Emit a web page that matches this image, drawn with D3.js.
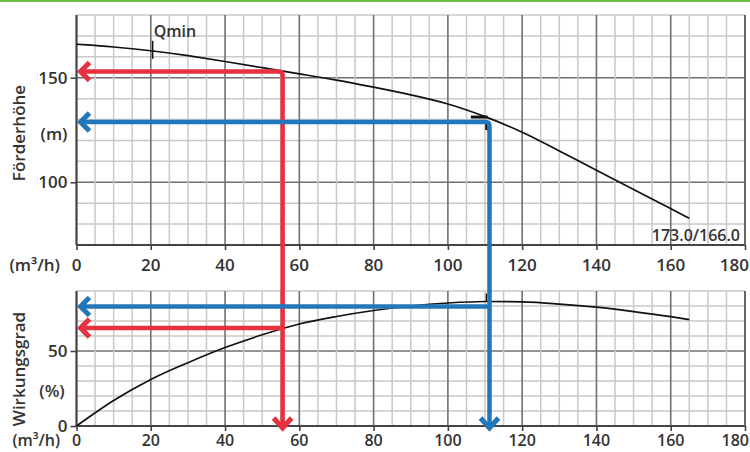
<!DOCTYPE html>
<html><head><meta charset="utf-8">
<script src="https://cdn.jsdelivr.net/npm/d3@7"></script>
<style>html,body{margin:0;padding:0;background:#fff;} svg{display:block;}</style>
</head><body>
<svg id="c" width="750" height="452"></svg>
<script>
// ---- data ----
const flowTicks = [0,20,40,60,80,100,120,140,160,180];
const headTicks = [150,100];
const effTicks = [50,0];
const headQ = [0,10,20,30,40,50,60,70,80,90,100,110,120,130,140,150,160,165];
const headH = [166,164.8,163,160.6,157.8,154.8,151.8,149,145.5,141.9,137.8,131.6,124.2,115,105.8,96.6,87.4,82.8];
const effQ  = [0,10,20,30,40,50,60,70,80,90,100,110,120,130,140,150,160,165];
const effE  = [0,17,31,42.2,52.3,60.8,68,73,77,80,82,83,82.7,81.3,79.2,76.3,72.9,70.9];
const dutyNames = ["rot","blau"];
const dutyQ   = [55.5, 111.2];
const dutyH   = [153, 128.8];
const dutyEta = [65.3, 79.6];
const qminQ = [20.5];
const curveLabel = ["173.0/166.0"];

// ---- layout ----
const svg = d3.select("#c");
const font = "'Open Sans', 'DejaVu Sans', sans-serif";
const colors = {rot:"#e5323e", blau:"#2277bb"};
const x = d3.scaleLinear([0,180],[76.5,745]);
const yT = d3.scaleLinear([70,180],[245,15]);
const yB = d3.scaleLinear([0,90],[426,291]);

svg.append("rect").attr("x",0).attr("y",0).attr("width",750).attr("height",2).attr("fill","#6bbf46");

function grid(y, yMin, yMax, yStep, yMajor){
  const g = svg.append("g");
  const minor = "#c9c9c9", major = "#707070";
  for(let v=yMin; v<=yMax+1e-6; v+=yStep){
    const isMaj = yMajor.includes(v);
    g.append("line").attr("x1",x(0)).attr("x2",x(180)).attr("y1",y(v)).attr("y2",y(v))
      .attr("stroke", isMaj?major:minor).attr("stroke-width",1.5);
  }
  for(let q=0;q<=180;q+=5){
    const isMaj = q%20===0;
    g.append("line").attr("x1",x(q)).attr("x2",x(q)).attr("y1",y(yMin)).attr("y2",y(yMax))
      .attr("stroke", isMaj?major:minor).attr("stroke-width",isMaj?1.6:1.5);
  }
  g.append("line").attr("x1",x(0)).attr("x2",x(180)).attr("y1",y(yMin)).attr("y2",y(yMin)).attr("stroke","#444").attr("stroke-width",2);
  g.append("line").attr("x1",x(0)).attr("x2",x(0)).attr("y1",y(yMin)).attr("y2",y(yMax)).attr("stroke","#444").attr("stroke-width",2);
  g.append("line").attr("x1",x(180)).attr("x2",x(180)).attr("y1",y(yMin)).attr("y2",y(yMax)).attr("stroke","#666").attr("stroke-width",2);
  const ax = d3.axisBottom(x).tickValues(flowTicks).tickSize(5).tickFormat("");
  const axG = g.append("g").attr("transform",`translate(0,${y(yMin)})`).call(ax);
  axG.select(".domain").remove();
  axG.selectAll("line").attr("stroke","#444").attr("stroke-width",1.6);
  return g;
}
grid(yT,70,180,10,[100,150]);
grid(yB,0,90,10,[50]);

function yAxis(y, ticks){
  const a = d3.axisLeft(y).tickValues(ticks).tickSize(6).tickPadding(3);
  const g = svg.append("g").attr("transform",`translate(${x(0)},0)`).call(a);
  g.select(".domain").remove();
  g.selectAll("line").attr("stroke","#444").attr("stroke-width",1.6);
  g.selectAll("text").attr("font-family",font).attr("font-size",17).attr("font-weight",600).attr("fill","#333");
}
yAxis(yT, headTicks);
yAxis(yB, effTicks);

function xLabels(yPos, size){
  const g = svg.append("g");
  g.selectAll("text").data(flowTicks).join("text")
    .attr("x",d=> d===180 ? 749 : x(d)).attr("y",yPos)
    .attr("text-anchor",d=> d===180 ? "end" : "middle").attr("dominant-baseline","central")
    .attr("font-family",font).attr("font-size",size).attr("font-weight",600).attr("fill","#333").text(d=>d);
  g.append("text").attr("x",60).attr("y",yPos).attr("text-anchor","end").attr("dominant-baseline","central")
    .attr("font-family",font).attr("font-size",size).attr("font-weight",600).attr("fill","#333").text("(m³/h)");
}
xLabels(264, 17);
xLabels(440, 16);

function txt(t, xx, yy, opts={}){
  const e = svg.append("text").attr("x",xx).attr("y",yy).attr("text-anchor",opts.anchor||"middle")
    .attr("dominant-baseline","central").attr("font-family",font).attr("font-size",opts.size||17)
    .attr("font-weight",600).attr("fill","#333").text(t);
  if(opts.rot) e.attr("transform",`rotate(-90,${xx},${yy})`);
  return e;
}
txt("(m)", 54, 133);
txt("(%)", 52, 390);
txt("Förderhöhe", 18, 133, {rot:true});
txt("Wirkungsgrad", 18, 369, {rot:true});

const headData = headQ.map((q,i)=>[q,headH[i]]);
const effData = effQ.map((q,i)=>[q,effE[i]]);
svg.append("path").attr("d", d3.line().x(d=>x(d[0])).y(d=>yT(d[1])).curve(d3.curveBasis)(headData))
  .attr("fill","none").attr("stroke","#111").attr("stroke-width",1.7);
svg.append("path").attr("d", d3.line().x(d=>x(d[0])).y(d=>yB(d[1])).curve(d3.curveMonotoneX)(effData))
  .attr("fill","none").attr("stroke","#111").attr("stroke-width",1.7);

qminQ.forEach(q=>{
  const hv = d3.scaleLinear(headQ, headH)(q);
  svg.append("line").attr("x1",x(q)).attr("x2",x(q)).attr("y1",yT(hv)-10).attr("y2",yT(hv)+8).attr("stroke","#111").attr("stroke-width",1.5);
  txt("Qmin", x(q)+1, 31, {anchor:"start", size:16});
});
txt(curveLabel[0], 740, 235, {anchor:"end", size:16});

svg.append("line").attr("x1",x(dutyQ[1]-5)).attr("x2",x(dutyQ[1]-0.5)).attr("y1",yT(dutyH[1])-5).attr("y2",yT(dutyH[1])-5).attr("stroke","#111").attr("stroke-width",3);
svg.append("line").attr("x1",x(dutyQ[1])-3).attr("x2",x(dutyQ[1])-3).attr("y1",yT(dutyH[1])+1).attr("y2",yT(dutyH[1])+8).attr("stroke","#111").attr("stroke-width",2.5);
svg.append("line").attr("x1",x(dutyQ[1])-1).attr("x2",x(dutyQ[1])-1).attr("y1",yT(dutyH[1])+3).attr("y2",yT(dutyH[1])+10).attr("stroke",colors.rot).attr("stroke-width",2);
svg.append("line").attr("x1",x(dutyQ[1])-3).attr("x2",x(dutyQ[1])-3).attr("y1",yB(83)-8).attr("y2",yB(83)).attr("stroke","#111").attr("stroke-width",1.5);

const aw = 4.5, hs = 9;
dutyNames.forEach((n,i)=>{
  const c = colors[n];
  const xq = x(dutyQ[i]), yh = yT(dutyH[i]), ye = yB(dutyEta[i]);
  const left = x(0)+3, bottom = yB(0)+2;
  const g = svg.append("g").attr("fill","none").attr("stroke",c).attr("stroke-width",aw).attr("stroke-linejoin","round");
  const r = 4;
  g.append("path").attr("d",`M${xq},${bottom-2} V${yh+r} Q${xq},${yh} ${xq-r},${yh} H${left+2}`);
  g.append("path").attr("d",`M${xq},${ye} H${left+2}`);
  [yh, ye].forEach(yy=>{
    g.append("path").attr("d",`M${left+hs+1},${yy-hs} L${left+1},${yy} L${left+hs+1},${yy+hs}`).attr("stroke-width",5).attr("stroke-linejoin","miter");
  });
  g.append("path").attr("d",`M${xq-hs},${bottom-hs-1} L${xq},${bottom} L${xq+hs},${bottom-hs-1}`).attr("stroke-width",5).attr("stroke-linejoin","miter");
});
</script>
</body></html>
